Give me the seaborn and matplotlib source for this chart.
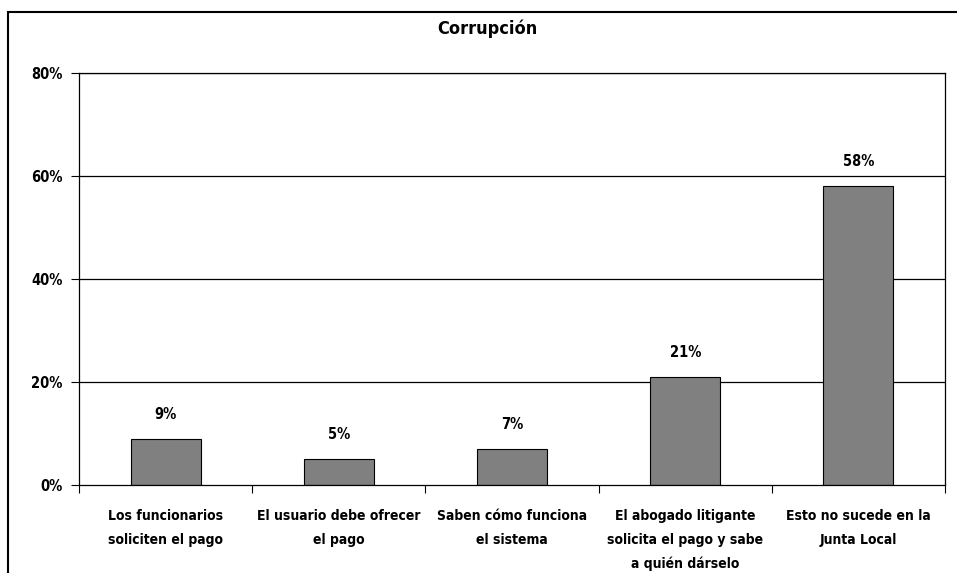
import matplotlib
matplotlib.use("Agg")
import matplotlib.pyplot as plt
import matplotlib.patches as mpatches
from matplotlib.ticker import FixedLocator, PercentFormatter
import seaborn as sns
import pandas as pd

# Datos del gráfico
categorias = [
    "Los funcionarios\nsoliciten el pago",
    "El usuario debe ofrecer\nel pago",
    "Saben cómo funciona\nel sistema",
    "El abogado litigante\nsolicita el pago y sabe\na quién dárselo",
    "Esto no sucede en la\nJunta Local",
]
valores = [9, 5, 7, 21, 58]
ticks_y = [0, 20, 40, 60, 80]

sns.set_style("white")
plt.rcParams["font.family"] = ["DejaVu Sans"]
plt.rcParams["font.stretch"] = "condensed"
plt.rcParams["text.color"] = "black"
plt.rcParams["xtick.color"] = "black"
plt.rcParams["ytick.color"] = "black"

df = pd.DataFrame({"categoria": categorias, "valor": valores})

fig = plt.figure(figsize=(9.57, 5.73), dpi=100)
ax = fig.add_axes([79 / 957, 1 - 485 / 573, 866 / 957, 412 / 573])

sns.barplot(data=df, x="categoria", y="valor", color="#808080",
            edgecolor="black", linewidth=0.8, width=0.404, saturation=1, ax=ax)

ax.set_ylim(0, 80)
ax.set_xlim(-0.5, len(categorias) - 0.5)
ax.yaxis.set_major_locator(FixedLocator(ticks_y))
ax.yaxis.set_major_formatter(PercentFormatter(decimals=0))
for t in ticks_y[1:]:
    ax.axhline(t, color="black", linewidth=0.9, zorder=0)

ax.set_xlabel("")
ax.set_ylabel("")
ax.tick_params(axis="y", left=True, length=6, width=0.8, direction="out",
               labelsize=10.5, pad=6)
for lbl in ax.get_yticklabels():
    lbl.set_fontweight("bold")
    lbl.set_fontstretch("condensed")
ax.tick_params(axis="x", which="major", bottom=False, length=0, labelsize=10, pad=17)
for lbl in ax.get_xticklabels():
    lbl.set_fontweight("bold")
    lbl.set_fontstretch("condensed")
    lbl.set_linespacing(1.9)
ax.set_xticks([i - 0.5 for i in range(len(categorias) + 1)], minor=True)
ax.tick_params(axis="x", which="minor", bottom=True, length=6, width=0.8,
               direction="out")

for s in ax.spines.values():
    s.set_color("black")
    s.set_linewidth(0.9)

for i, v in enumerate(valores):
    ax.text(i, v + 3.3, f"{v}%", ha="center", va="bottom", fontsize=10.5,
            fontweight="bold", fontstretch="condensed")

fig.suptitle("Corrupción", x=0.509, y=0.966, fontsize=13, fontweight="bold",
             fontstretch="condensed")

# Borde exterior del área del gráfico
borde = mpatches.Rectangle((8 / 957, -0.05), 1.1, 1 - 12 / 573 + 0.05,
                           transform=fig.transFigure, fill=False,
                           edgecolor="black", linewidth=1.5, clip_on=False)
fig.patches.append(borde)

fig.savefig("out.png", dpi=100)
